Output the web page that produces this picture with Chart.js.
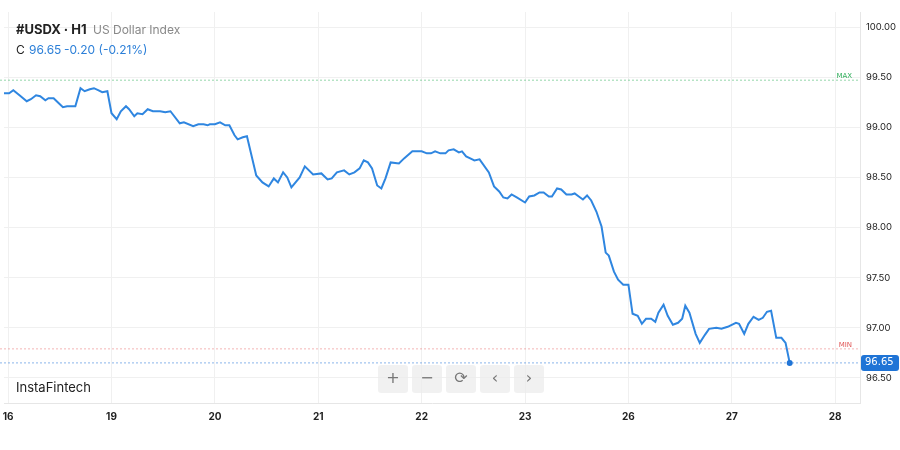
<!DOCTYPE html>
<html><head><meta charset="utf-8">
<script src="https://cdn.jsdelivr.net/npm/chart.js@4"></script>
<style>html,body{margin:0;padding:0;background:#fff}#w{width:900px;height:450px;position:relative}</style>
</head><body><div id="w"><canvas id="c"></canvas></div>
<script>
const dayLabels=["16","19","20","21","22","23","26","27","28"];
const yTicks=[96.5,97,97.5,98,98.5,99,99.5,100];
const xs=[-0.04,0.01,0.05,0.11,0.18,0.22,0.27,0.31,0.36,0.39,0.44,0.48,0.53,0.57,0.65,0.70,0.74,0.79,0.83,0.87,0.91,0.96,1.00,1.05,1.09,1.14,1.17,1.22,1.25,1.30,1.35,1.40,1.47,1.52,1.57,1.66,1.70,1.79,1.84,1.89,1.93,1.95,2.00,2.05,2.10,2.14,2.19,2.22,2.27,2.31,2.40,2.46,2.52,2.57,2.61,2.66,2.70,2.74,2.82,2.87,2.95,3.03,3.09,3.13,3.18,3.25,3.30,3.35,3.40,3.44,3.48,3.52,3.57,3.61,3.65,3.70,3.78,3.83,3.91,3.97,4.00,4.05,4.09,4.13,4.18,4.23,4.26,4.31,4.36,4.39,4.43,4.49,4.51,4.56,4.65,4.70,4.75,4.79,4.83,4.87,4.92,5.00,5.04,5.09,5.14,5.18,5.23,5.26,5.31,5.35,5.40,5.45,5.48,5.52,5.56,5.60,5.64,5.69,5.74,5.78,5.81,5.86,5.90,5.95,6.00,6.04,6.09,6.13,6.17,6.22,6.26,6.29,6.34,6.38,6.43,6.48,6.52,6.55,6.59,6.65,6.69,6.74,6.78,6.85,6.90,6.96,7.04,7.07,7.12,7.16,7.21,7.26,7.30,7.34,7.38,7.43,7.48,7.52,7.56];
const closes=[99.34,99.34,99.37,99.32,99.26,99.28,99.32,99.31,99.27,99.29,99.29,99.25,99.20,99.21,99.21,99.39,99.36,99.38,99.39,99.37,99.35,99.36,99.14,99.08,99.16,99.21,99.18,99.11,99.14,99.13,99.18,99.16,99.16,99.15,99.16,99.04,99.05,99.01,99.03,99.03,99.02,99.03,99.03,99.05,99.02,99.02,98.92,98.88,98.90,98.91,98.52,98.45,98.41,98.49,98.45,98.55,98.50,98.40,98.50,98.61,98.53,98.54,98.48,98.49,98.55,98.57,98.53,98.55,98.59,98.67,98.65,98.59,98.42,98.39,98.49,98.65,98.64,98.69,98.76,98.76,98.76,98.74,98.74,98.76,98.74,98.74,98.77,98.78,98.75,98.76,98.71,98.68,98.67,98.68,98.55,98.41,98.36,98.30,98.29,98.33,98.30,98.25,98.31,98.32,98.35,98.35,98.31,98.31,98.39,98.38,98.33,98.33,98.34,98.31,98.28,98.32,98.27,98.16,98.01,97.75,97.72,97.56,97.48,97.43,97.43,97.14,97.12,97.04,97.09,97.09,97.06,97.15,97.23,97.12,97.03,97.05,97.09,97.22,97.15,96.94,96.85,96.93,96.99,97.00,96.99,97.01,97.05,97.04,96.94,97.04,97.11,97.08,97.10,97.16,97.17,96.90,96.90,96.85,96.65];
const maxLevel=99.47, minLevel=96.79, lastPrice=96.65;
const pts=xs.map((x,i)=>({x:x,y:closes[i]}));
const overlay={id:'ov',afterDraw(ch){
 const c=ch.ctx,a=ch.chartArea,ys=ch.scales.y;c.save();
 c.lineWidth=1;c.setLineDash([2,2]);
 let y=ys.getPixelForValue(maxLevel);c.strokeStyle='rgba(60,180,100,0.55)';c.beginPath();c.moveTo(0,y);c.lineTo(a.right,y);c.stroke();
 c.fillStyle='#2fae5a';c.font='7px "DejaVu Sans"';c.textAlign='right';c.fillText('MAX',a.right-8,y-2);
 y=ys.getPixelForValue(minLevel);c.strokeStyle='rgba(230,90,90,0.45)';c.beginPath();c.moveTo(0,y);c.lineTo(a.right,y);c.stroke();
 c.fillStyle='#e05555';c.fillText('MIN',a.right-8,y-2);
 y=ys.getPixelForValue(lastPrice);c.strokeStyle='rgba(60,130,220,0.6)';c.beginPath();c.moveTo(0,y);c.lineTo(a.right,y);c.stroke();
 c.setLineDash([]);
 c.fillStyle='#1f74d6';c.beginPath();c.roundRect(a.right+1,y-8,38,16,3);c.fill();
 c.fillStyle='#fff';c.font='10px "DejaVu Sans"';c.textAlign='left';c.textBaseline='middle';c.fillText(lastPrice.toFixed(2),a.right+5,y);
 c.textBaseline='alphabetic';
 c.font='bold 13px Inter';c.fillStyle='#222';c.fillText('#USDX · H1',16,34);
 c.font='12px Inter';c.fillStyle='#888';c.fillText('US Dollar Index',93,34);
 c.fillStyle='#222';c.fillText('C',16,54);c.fillStyle='#2b7fd8';c.fillText('96.65',29,54);c.fillText('-0.20 (-0.21%)',64,54);
 c.font='13px Inter';c.fillStyle='#222';c.fillText('InstaFintech',16,392);
 const icons=['+','−','⟳','‹','›'];
 for(let i=0;i<5;i++){const bx=378+i*34;c.fillStyle='rgba(235,235,235,0.7)';c.beginPath();c.roundRect(bx,365,30,28,3);c.fill();
  c.fillStyle='#777';c.font='16px "DejaVu Sans"';c.textAlign='center';c.textBaseline='middle';c.fillText(icons[i],bx+15,379);}
 c.restore();}};
new Chart(document.getElementById('c'),{type:'line',
 data:{datasets:[{data:pts,borderColor:'#2f86e0',borderWidth:2,tension:0,
   pointRadius:pts.map((p,i)=>i===pts.length-1?3:0),pointBackgroundColor:'#1f74d6',pointBorderWidth:0}]},
 options:{responsive:true,maintainAspectRatio:false,animation:false,
  layout:{padding:{top:12,left:-4,right:0,bottom:0}},
  plugins:{legend:{display:false},tooltip:{enabled:false}},
  scales:{
   x:{type:'linear',min:-0.04,max:8.24,
     afterBuildTicks(s){s.ticks=dayLabels.map((l,i)=>({value:i}));},
     afterFit(s){s.height=47;s.paddingLeft=0;s.paddingRight=0;},
     grid:{color:'#f0f0f0',drawTicks:false},border:{color:'#e6e6e6'},
     ticks:{callback:(v)=>dayLabels[v],color:'#222',font:{family:'Inter',size:10,weight:'bold'},padding:8,maxRotation:0}},
   y:{position:'right',min:96.25,max:100.15,
     afterBuildTicks(s){s.ticks=yTicks.map(v=>({value:v}));},
     afterFit(s){s.width=40;},
     grid:{color:'#f0f0f0',drawTicks:false},border:{color:'#e6e6e6'},
     ticks:{callback:(v)=>v.toFixed(2),color:'#222',font:{family:'Inter',size:9.5},padding:6}}
  }},
 plugins:[overlay]});
</script></body></html>
